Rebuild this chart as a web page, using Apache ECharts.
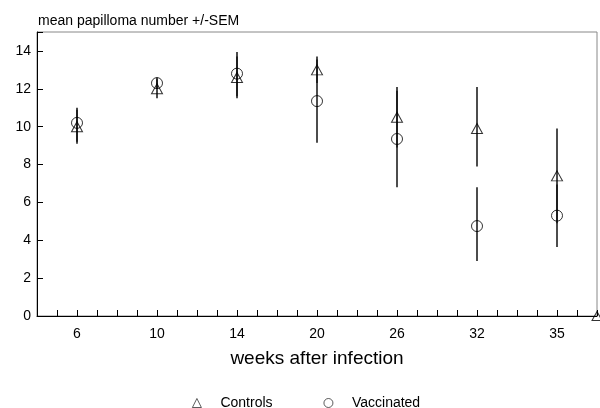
<!DOCTYPE html>
<html><head><meta charset="utf-8">
<script src="https://cdn.jsdelivr.net/npm/echarts@6/dist/echarts.min.js"></script>
<style>html,body{margin:0;padding:0;background:#fff}#c{width:600px;height:408px}</style>
</head><body><div id="c"></div>
<script>
const weeks = ['6', '10', '14', '20', '26', '32', '35'];
const controlsMean = [10.0, 12.0, 12.6, 13.0, 10.5, 9.9, 7.4];
const controlsLow = [9.2, 11.5, 11.5, 12.3, 8.9, 7.9, 4.9];
const controlsHigh = [10.9, 12.5, 13.7, 13.7, 12.1, 12.1, 9.9];
const vaccinatedMean = [10.2, 12.3, 12.8, 11.35, 9.35, 4.75, 5.3];
const vaccinatedLow = [9.1, 12.0, 11.6, 9.15, 6.8, 2.9, 3.65];
const vaccinatedHigh = [11.0, 12.6, 13.95, 13.55, 11.9, 6.8, 6.95];
const strayControlsPoint = [6.5, 0];
const yTickValues = [0, 2, 4, 6, 8, 10, 12, 14];

const FONT = "'Liberation Sans', Arial, sans-serif";
const chart = echarts.init(document.getElementById('c'), null, {renderer: 'canvas'});

function errData(lo, hi) { return lo.map((l, i) => [i, l, hi[i]]); }
function errRender(params, api) {
  const x = api.value(0);
  const p1 = api.coord([x, api.value(1)]);
  const p2 = api.coord([x, api.value(2)]);
  return {type: 'line', shape: {x1: p1[0], y1: p1[1], x2: p2[0], y2: p2[1]},
          style: {stroke: '#111', lineWidth: 1.5}};
}

chart.setOption({
  animation: false,
  backgroundColor: '#fff',
  textStyle: {fontFamily: FONT},
  title: {text: 'mean papilloma number +/-SEM', left: 38, top: 14, padding: 0,
          textStyle: {fontSize: 14, fontWeight: 'normal', color: '#000', fontFamily: FONT}},
  grid: {left: 37, right: 2, top: 32, bottom: 92, show: true, borderColor: '#888', borderWidth: 1},
  legend: {
    data: ['Controls', 'Vaccinated'], left: 192, top: 396, padding: 0,
    itemWidth: 9, itemHeight: 9, itemGap: 51,
    itemStyle: {borderWidth: 0.8},
    textStyle: {fontSize: 14, color: '#000', fontFamily: FONT, padding: [0, 0, 0, 14]}
  },
  xAxis: {
    type: 'value', min: -0.5, max: 6.5, interval: 0.25,
    name: 'weeks after infection', nameLocation: 'middle', nameGap: 33,
    nameTextStyle: {fontSize: 19, color: '#000', fontFamily: FONT},
    axisLine: {onZero: false, lineStyle: {color: '#000', width: 1}},
    axisTick: {inside: true, length: 6, lineStyle: {color: '#000'}},
    axisLabel: {fontSize: 14, color: '#000', margin: 11, fontFamily: FONT,
      formatter: v => (Number.isInteger(v) && weeks[v] !== undefined) ? weeks[v] : ''},
    splitLine: {show: false}
  },
  yAxis: {
    type: 'value', min: 0, max: 15, interval: 2,
    axisLine: {show: true, onZero: false, lineStyle: {color: '#000', width: 1}},
    axisTick: {show: true, inside: true, length: 6, lineStyle: {color: '#000'}},
    axisLabel: {fontSize: 14, color: '#000', margin: 6, fontFamily: FONT,
      formatter: v => yTickValues.includes(v) ? String(v) : ''},
    splitLine: {show: false}
  },
  series: [
    {type: 'custom', name: 'ctrlErr', data: errData(controlsLow, controlsHigh), renderItem: errRender,
     encode: {x: 0, y: [1, 2]}, z: 1, silent: true},
    {type: 'custom', name: 'vacErr', data: errData(vaccinatedLow, vaccinatedHigh), renderItem: errRender,
     encode: {x: 0, y: [1, 2]}, z: 1, silent: true},
    {type: 'scatter', name: 'Controls', symbol: 'triangle', symbolSize: [11, 10],
     data: controlsMean.map((v, i) => [i, v]),
     itemStyle: {color: 'rgba(255,255,255,0)', borderColor: '#000', borderWidth: 1}, z: 3},
    {type: 'scatter', name: 'Vaccinated', symbol: 'circle', symbolSize: 11,
     data: vaccinatedMean.map((v, i) => [i, v]),
     itemStyle: {color: 'rgba(255,255,255,0)', borderColor: '#000', borderWidth: 1}, z: 3},
    {type: 'scatter', name: 'stray', symbol: 'triangle', symbolSize: [10, 9], clip: false,
     data: [strayControlsPoint],
     itemStyle: {color: 'rgba(255,255,255,0)', borderColor: '#000', borderWidth: 1}, z: 3}
  ]
});
</script></body></html>
